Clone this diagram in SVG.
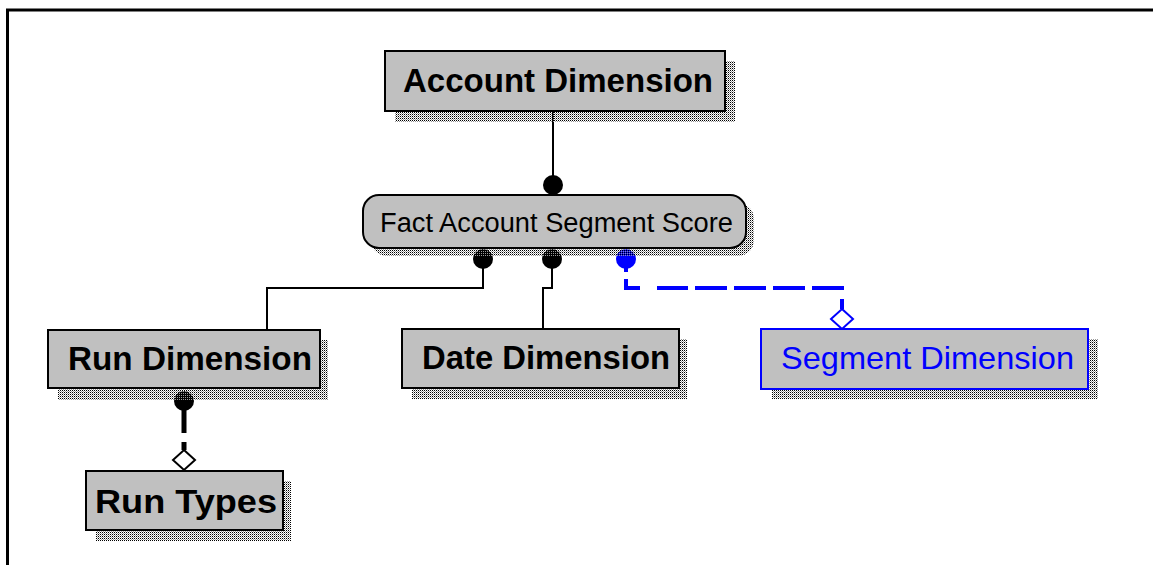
<svg xmlns="http://www.w3.org/2000/svg" width="1153" height="565" viewBox="0 0 1153 565">
<style>
.box{fill:#c0c0c0;stroke:#000;stroke-width:2}
.blue{fill:#c0c0c0;stroke:#0000ff;stroke-width:2}
.sh{fill:url(#dots)}
.tb{font-family:"Liberation Sans",Arial,sans-serif;font-weight:bold;font-size:33px;fill:#000}
.tr{font-family:"Liberation Sans",Arial,sans-serif;font-size:27px;fill:#000}
.tblue{font-family:"Liberation Sans",Arial,sans-serif;font-size:32px;fill:#0000ff}
.ln{fill:none;stroke:#000;stroke-width:2}
</style>
<defs>
<pattern id="dots" width="2" height="2" patternUnits="userSpaceOnUse">
<rect width="1" height="1" fill="#000"/>
<rect x="1" y="1" width="1" height="1" fill="#9a9a9a"/>
</pattern>
</defs>
<rect width="1153" height="565" fill="#fff"/>
<path d="M7.5 565 V10 H1153" fill="none" stroke="#000" stroke-width="3"/>

<g id="connectors">
<path class="ln" d="M553 111 V185"/>
<circle cx="553" cy="185" r="10" fill="#000"/>
<path class="ln" d="M483 259 V288 H267 V330"/>
<circle cx="483" cy="259" r="10" fill="#000"/>
<path class="ln" d="M552 259 V288 H543 V329"/>
<circle cx="552" cy="259" r="10" fill="#000"/>
<path d="M626 259 V288 H842 V309" fill="none" stroke="#0000ff" stroke-width="4" stroke-dasharray="13 7 23 17 31 7 32 7 32 7 32 7 32 9 10 100"/>
<circle cx="626" cy="259" r="10" fill="#0000ff"/>
<path d="M842 309 L853 319 L842 329 L831 319 Z" fill="#fff" stroke="#0000ff" stroke-width="2"/>
<path d="M184 401 V450" fill="none" stroke="#000" stroke-width="5" stroke-dasharray="32 9 20"/>
<circle cx="184" cy="401" r="10" fill="#000"/>
<path d="M184 450 L195 460 L184 470 L173 460 Z" fill="#fff" stroke="#000" stroke-width="2"/>
</g>

<g id="account-dimension">
<rect class="sh" x="395" y="61" width="340" height="61"/>
<rect class="box" x="385" y="51" width="340" height="60"/>
<text class="tb" x="403" y="92" textLength="310" lengthAdjust="spacingAndGlyphs">Account Dimension</text>
</g>

<g id="fact-account-segment-score">
<rect class="sh" x="371" y="203" width="383" height="53" rx="16"/>
<rect class="box" x="363" y="195" width="383" height="53" rx="16"/>
<text class="tr" x="380" y="232" textLength="353" lengthAdjust="spacingAndGlyphs">Fact Account Segment Score</text>
</g>

<g id="run-dimension">
<rect class="sh" x="58" y="340" width="270" height="60"/>
<rect class="box" x="48" y="330" width="272" height="58"/>
<text class="tb" x="68" y="370" textLength="244" lengthAdjust="spacingAndGlyphs">Run Dimension</text>
</g>

<g id="date-dimension">
<rect class="sh" x="412" y="339" width="275" height="60"/>
<rect class="box" x="402" y="329" width="277" height="59"/>
<text class="tb" x="422" y="369" textLength="248" lengthAdjust="spacingAndGlyphs">Date Dimension</text>
</g>

<g id="segment-dimension">
<rect class="sh" x="772" y="339" width="326" height="60"/>
<rect class="blue" x="761" y="329" width="327" height="60"/>
<text class="tblue" x="781" y="369" textLength="293" lengthAdjust="spacingAndGlyphs">Segment Dimension</text>
</g>

<g id="run-types">
<rect class="sh" x="96" y="481" width="195" height="60"/>
<rect class="box" x="86" y="471" width="197" height="59"/>
<text class="tb" x="95" y="513" textLength="182" lengthAdjust="spacingAndGlyphs">Run Types</text>
</g>
</svg>
